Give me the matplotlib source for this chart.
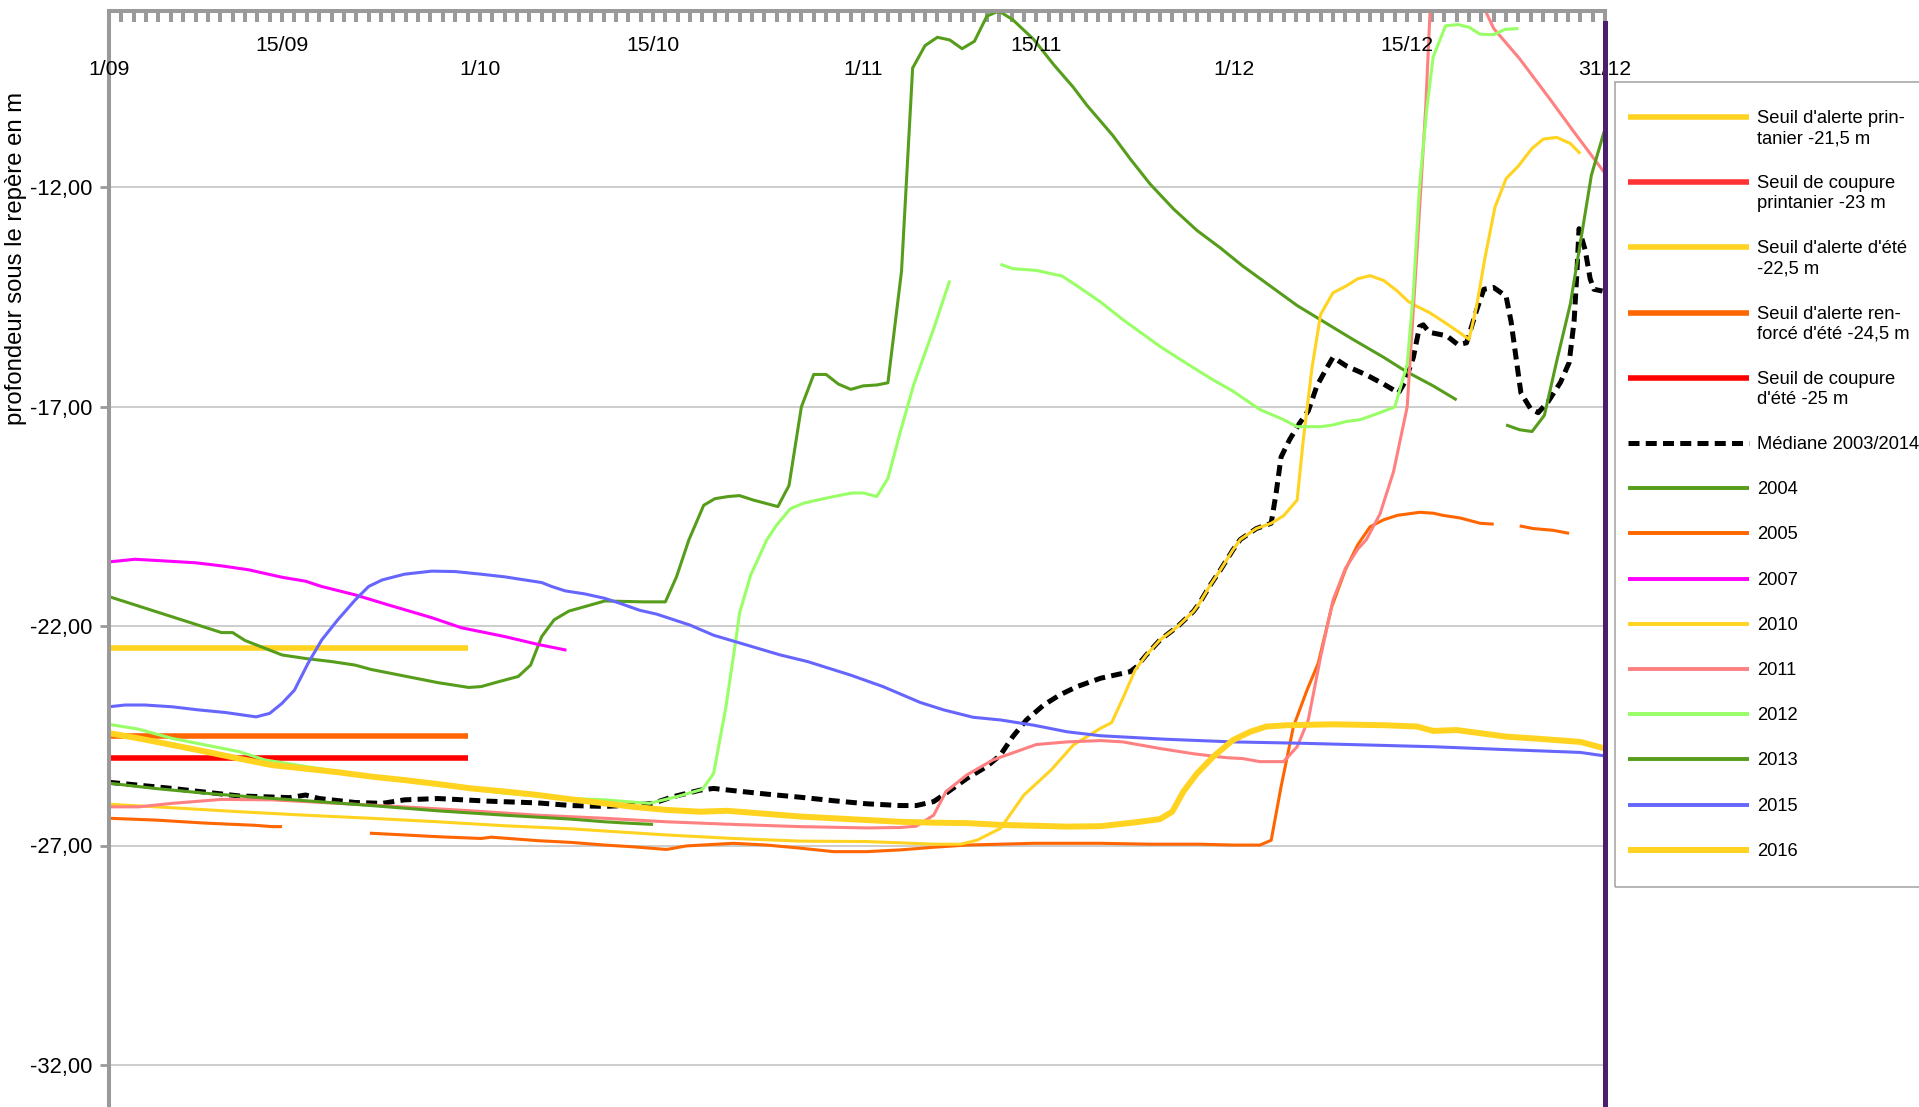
import numpy as np
import matplotlib
matplotlib.use("Agg")
import matplotlib.pyplot as plt
from matplotlib.lines import Line2D
from matplotlib.patches import Rectangle
from matplotlib import transforms

plt.rcParams['font.family'] = ['Liberation Sans', 'DejaVu Sans']

nan = np.nan

# jours comptés depuis le 1er septembre (0 = 1/09, 121 = 31/12)
date_jours = [0, 14, 30, 44, 61, 75, 91, 105, 121]
date_labels = ["1/09", "15/09", "1/10", "15/10", "1/11", "15/11", "1/12", "15/12", "31/12"]
y_ticks = [-32, -27, -22, -17, -12]

# seuils d'été (tracés jusqu'au 30/09) ; seuils printaniers hors période
seuil_jours = [0, 29]
seuil_printemps_jours = []
seuil_alerte_printemps = []
seuil_coupure_printemps = []
seuil_alerte_ete = [-22.5, -22.5]
seuil_renforce_ete = [-24.5, -24.5]
seuil_coupure_ete = [-25.0, -25.0]

mediane_jours = [0, 5.1, 10.5, 14.6, 15.9, 17.0, 19.9, 22.1, 23.9, 26.6, 30.7, 34.7, 37.4, 40.1,
                 42.4, 44.0, 45.6, 47.8, 48.9, 50.5, 53.2, 55.9, 58.6, 61.3, 64.0, 65.3, 66.7, 67.7,
                 69.4, 71.0, 72.1, 73.1, 74.2, 75.6, 76.9, 78.3, 80.2, 82.6, 83.1, 83.9, 85.0, 86.4,
                 87.7, 88.2, 89.0, 89.9, 90.9, 91.5, 92.8, 94.0, 94.4, 94.8, 95.5, 96.3, 97.0, 97.7,
                 98.5, 99.0, 100.1, 101.7, 103.1, 104.3, 104.8, 105.5, 106.0, 106.3, 106.8, 108.2,
                 109.1, 109.8, 110.6, 111.2, 112.0, 113.0, 113.4, 113.8, 114.2, 115.0, 115.6, 116.4,
                 117.4, 118.1, 118.5, 118.7, 118.9, 119.4, 119.8, 120.1, 120.8]
mediane = [-25.56, -25.70, -25.87, -25.91, -25.85, -25.93, -26.02, -26.04, -25.96, -25.93, -25.99,
           -26.03, -26.09, -26.11, -26.08, -26.04, -25.89, -25.74, -25.70, -25.75, -25.83, -25.90,
           -25.98, -26.05, -26.09, -26.09, -26.00, -25.81, -25.47, -25.20, -24.94, -24.52, -24.14,
           -23.80, -23.57, -23.38, -23.19, -23.04, -22.93, -22.66, -22.32, -22.02, -21.67, -21.48,
           -21.10, -20.72, -20.27, -20.03, -19.78, -19.66, -18.97, -18.15, -17.75, -17.38, -17.10,
           -16.53, -16.12, -15.88, -16.08, -16.28, -16.49, -16.69, -16.45, -15.88, -15.18, -15.14,
           -15.31, -15.39, -15.59, -15.55, -14.82, -14.33, -14.29, -14.49, -15.06, -15.88, -16.69,
           -17.06, -17.14, -16.89, -16.45, -16.00, -15.06, -14.09, -12.95, -13.44, -14.09, -14.33,
           -14.37]

jours_2004 = [0, 9.1, 10.0, 11.0, 14.0, 15.9, 18.0, 19.9, 21.2, 23.9, 26.6, 29.1, 30.1, 31.5, 33.1,
              34.1, 35.0, 36.0, 37.2, 40.1, 43.2, 45.0, 45.9, 46.9, 48.1, 49.0, 50.1, 51.0, 52.1,
              54.1, 55.0, 56.0, 57.0, 58.0, 59.0, 60.0, 61.0, 62.1, 63.0, 64.1, 65.0, 66.0, 67.0,
              68.0, 69.0, 70.0, 71.0, 71.8, 72.2, 73.1, 74.8, 76.4, 78.0, 79.1, 80.2, 81.2, 82.6,
              84.2, 86.1, 88.0, 89.9, 91.7, 93.9, 96.1, 98.2, 100.6, 103.1, 104.9, 107.1, 109.0]
prof_2004 = [-21.33, -22.15, -22.15, -22.33, -22.66, -22.74, -22.81, -22.89, -22.99, -23.14, -23.29,
             -23.40, -23.38, -23.27, -23.15, -22.89, -22.24, -21.86, -21.66, -21.43, -21.45, -21.45,
             -20.88, -20.04, -19.25, -19.10, -19.05, -19.03, -19.13, -19.28, -18.80, -17.01, -16.27,
             -16.27, -16.49, -16.61, -16.53, -16.51, -16.46, -13.92, -9.29, -8.78, -8.59, -8.65,
             -8.85, -8.68, -8.11, -8.01, -8.03, -8.19, -8.64, -9.21, -9.73, -10.14, -10.50, -10.83,
             -11.36, -11.93, -12.50, -12.99, -13.39, -13.80, -14.25, -14.70, -15.06, -15.47, -15.88,
             -16.20, -16.53, -16.85]

jours_2005 = [0, 3.7, 7.8, 11.8, 13.2, 14.0, nan, 21.1, 23.9, 26.6, 30.1, 30.9, 34.7, 37.4, 40.1,
              42.4, 45.1, 46.7, 50.5, 53.2, 55.9, 58.6, 61.3, 64.0, 66.7, 69.4, 72.1, 74.8, 80.2,
              84.2, 88.2, 90.9, 93.1, 94.0, 94.8, 95.8, 96.9, 97.8, 98.9, 100.0, 101.0, 102.0,
              103.1, 104.2, 106.0, 107.1, 107.9, 109.3, 110.9, 112.0, nan, 114.1, 115.2, 116.8, 118.1]
prof_2005 = [-26.38, -26.42, -26.49, -26.54, -26.57, -26.57, nan, -26.72, -26.76, -26.80, -26.84,
             -26.81, -26.89, -26.93, -26.99, -27.03, -27.09, -27.01, -26.95, -26.99, -27.06, -27.14,
             -27.14, -27.10, -27.04, -26.99, -26.97, -26.95, -26.95, -26.97, -26.97, -26.99, -26.99,
             -26.88, -25.66, -24.29, -23.46, -22.85, -21.56, -20.72, -20.15, -19.74, -19.58, -19.48,
             -19.41, -19.43, -19.48, -19.54, -19.66, -19.68, nan, -19.72, -19.78, -19.82, -19.89]

jours_2007 = [0, 2.1, 4.0, 7.0, 9.1, 11.3, 14.0, 15.9, 17.2, 19.9, 22.6, 26.1, 28.5, 32.0, 34.7, 37.0]
prof_2007 = [-20.54, -20.48, -20.51, -20.56, -20.63, -20.72, -20.89, -20.98, -21.10, -21.29, -21.52,
             -21.81, -22.04, -22.24, -22.42, -22.55]

jours_2010 = [0, 5.1, 10.5, 15.9, 21.2, 26.6, 32.0, 37.4, 40.1, 45.1, 50.5, 55.9, 61.3, 66.7, 68.9,
              70.2, 72.1, 74.0, 76.2, 78.0, 80.2, 81.1, 82.0, 83.0, 83.9, 85.0, 86.4, 87.7, 88.2,
              89.0, 89.9, 90.9, 91.5, 92.8, 94.0, 95.0, 96.1, 96.6, 97.3, 98.0, 99.0, 100.1, 101.0,
              102.0, 103.1, 104.2, 105.1, 105.8, 106.8, 107.9, 109.0, 110.0, 110.6, 111.3, 112.1,
              113.0, 114.0, 115.1, 116.0, 117.1, 118.2, 119.0]
prof_2010 = [-26.06, -26.14, -26.23, -26.31, -26.38, -26.46, -26.55, -26.62, -26.67, -26.76, -26.84,
             -26.90, -26.91, -26.97, -26.97, -26.88, -26.61, -25.85, -25.28, -24.71, -24.33, -24.20,
             -23.65, -23.00, -22.66, -22.32, -22.02, -21.67, -21.48, -21.10, -20.72, -20.27, -20.03,
             -19.78, -19.66, -19.49, -19.13, -17.75, -16.12, -14.90, -14.41, -14.25, -14.09, -14.02,
             -14.13, -14.37, -14.61, -14.72, -14.86, -15.06, -15.27, -15.47, -14.74, -13.60, -12.46,
             -11.81, -11.52, -11.12, -10.91, -10.87, -11.01, -11.24]

jours_2011 = [0, 2.4, 5.1, 9.1, 13.2, 18.5, 23.9, 29.3, 34.7, 40.1, 45.1, 50.5, 55.9, 61.3, 64.0,
              65.3, 66.7, 67.7, 69.4, 71.5, 73.1, 75.0, 77.5, 80.2, 82.0, 85.0, 87.7, 90.4, 91.7,
              93.1, 95.0, 96.1, 97.0, 98.0, 99.0, 100.0, 101.0, 101.7, 102.8, 103.9, 105.0, 105.8,
              106.5, 106.85, nan, 111.35, 112.0, 114.1, 116.5, 118.5, 121.0]
prof_2011 = [-26.12, -26.12, -26.04, -25.95, -25.96, -26.04, -26.12, -26.21, -26.31, -26.38, -26.46,
             -26.52, -26.57, -26.60, -26.59, -26.56, -26.31, -25.77, -25.39, -25.05, -24.89, -24.70,
             -24.64, -24.61, -24.64, -24.79, -24.91, -25.00, -25.02, -25.09, -25.09, -24.75, -24.14,
             -22.70, -21.41, -20.69, -20.25, -20.03, -19.45, -18.48, -17.01, -13.44, -10.18, -8.0,
             nan, -8.0, -8.39, -9.08, -9.98, -10.75, -11.69]

jours_2012 = [0, 2.4, 5.1, 7.8, 10.5, 12.6, 15.9, 21.2, 26.6, 32.0, 37.4, 40.1, 43.7, 45.9, 48.0,
              48.9, 49.9, 50.7, 51.0, 51.9, 53.2, 54.0, 55.1, 56.2, 57.8, 59.0, 60.1, 61.0, 62.1,
              63.0, 64.0, 65.1, 66.7, 68.0, nan, 72.1, 73.1, 75.0, 77.1, 78.5, 80.2, 82.0, 85.0,
              86.6, 89.1, 90.9, 93.1, 95.0, 96.1, 98.0, 99.0, 100.1, 101.2, 102.8, 104.0, 105.0,
              105.5, 106.0, 106.6, 107.1, 108.1, 109.1, 110.0, 110.9, 112.0, 112.9, 114.0]
prof_2012 = [-24.24, -24.35, -24.56, -24.71, -24.86, -25.05, -25.20, -25.43, -25.62, -25.81, -25.93,
             -25.96, -26.04, -25.89, -25.72, -25.36, -23.84, -22.32, -21.71, -20.84, -20.04, -19.70,
             -19.33, -19.20, -19.10, -19.03, -18.97, -18.97, -19.05, -18.64, -17.58, -16.49, -15.23,
             -14.13, nan, -13.76, -13.86, -13.90, -14.03, -14.29, -14.62, -15.02, -15.63, -15.92,
             -16.36, -16.65, -17.07, -17.30, -17.46, -17.46, -17.42, -17.34, -17.30, -17.14, -17.01,
             -16.04, -14.41, -11.97, -10.18, -9.04, -8.33, -8.30, -8.36, -8.52, -8.53, -8.41, -8.39]

jours_2013 = [0, 3.7, 7.8, 11.8, 15.9, 21.2, 26.6, 32.0, 37.4, 40.1, 41.9, 44.0, nan, 113.0, 114.1,
              115.1, 116.1, 117.1, 118.2, 119.1, 119.9, 121.0]
prof_2013 = [-25.58, -25.70, -25.81, -25.90, -25.98, -26.09, -26.21, -26.31, -26.40, -26.46, -26.49,
             -26.52, nan, -17.42, -17.53, -17.57, -17.20, -15.96, -14.66, -13.11, -11.73, -10.67]

jours_2015 = [0, 1.3, 2.9, 5.1, 7.2, 9.4, 11.9, 13.0, 14.0, 15.0, 16.1, 17.2, 18.5, 19.9, 21.0,
              22.1, 23.9, 26.1, 28.0, 30.1, 32.0, 33.6, 35.0, 35.8, 36.9, 38.5, 40.1, 41.3, 42.9,
              44.3, 47.0, 48.9, 51.3, 54.3, 56.5, 60.0, 62.6, 65.6, 67.5, 69.9, 72.1, 74.8, 77.5,
              80.2, 85.5, 90.9, 96.3, 101.7, 107.1, 112.5, 119.0, 121.0]
prof_2015 = [-23.84, -23.80, -23.80, -23.84, -23.91, -23.97, -24.07, -23.99, -23.76, -23.46, -22.85,
             -22.32, -21.86, -21.41, -21.10, -20.95, -20.82, -20.75, -20.76, -20.82, -20.88, -20.95,
             -21.01, -21.10, -21.20, -21.27, -21.37, -21.48, -21.64, -21.73, -21.98, -22.21, -22.41,
             -22.66, -22.81, -23.12, -23.38, -23.74, -23.91, -24.08, -24.14, -24.26, -24.41, -24.50,
             -24.58, -24.64, -24.67, -24.71, -24.75, -24.81, -24.88, -24.96]

jours_2016 = [0, 2.4, 5.1, 7.8, 10.5, 13.2, 15.9, 18.5, 21.2, 23.9, 26.6, 29.3, 32.0, 34.7, 37.4,
              40.1, 42.4, 45.1, 47.8, 50.0, 53.2, 55.9, 58.6, 61.3, 64.0, 66.7, 69.4, 72.1, 74.8,
              77.5, 80.2, 82.8, 85.0, 86.0, 86.9, 88.0, 89.3, 90.9, 92.3, 93.6, 95.3, 99.0, 103.1,
              105.8, 107.1, 109.0, 110.6, 113.0, 115.2, 119.0, 121.0]
prof_2016 = [-24.44, -24.56, -24.71, -24.86, -25.02, -25.17, -25.25, -25.33, -25.43, -25.51, -25.60,
             -25.70, -25.77, -25.85, -25.95, -26.04, -26.12, -26.19, -26.23, -26.21, -26.28, -26.34,
             -26.38, -26.42, -26.46, -26.48, -26.49, -26.53, -26.55, -26.57, -26.56, -26.48, -26.40,
             -26.23, -25.77, -25.36, -24.98, -24.60, -24.41, -24.29, -24.26, -24.24, -24.26, -24.29,
             -24.39, -24.37, -24.43, -24.52, -24.56, -24.64, -24.79]

W, H = 1919, 1107
GRIS = '#9a9a9a'
DASH = (2.2, 1.25)

# (légende, jours, valeurs, couleur, épaisseur, pointillé)
series = [
    ("Seuil d'alerte prin-\ntanier -21,5 m", seuil_printemps_jours, seuil_alerte_printemps, '#ffd320', 4.0, None),
    ("Seuil de coupure\nprintanier -23 m", seuil_printemps_jours, seuil_coupure_printemps, '#ff3333', 4.0, None),
    ("Seuil d'alerte d'été\n-22,5 m", seuil_jours, seuil_alerte_ete, '#ffd320', 4.0, None),
    ("Seuil d'alerte ren-\nforcé d'été -24,5 m", seuil_jours, seuil_renforce_ete, '#ff6600', 4.0, None),
    ("Seuil de coupure\nd'été -25 m", seuil_jours, seuil_coupure_ete, '#ff0000', 4.0, None),
    ("Médiane 2003/2014", mediane_jours, mediane, '#000000', 3.6, DASH),
    ("2004", jours_2004, prof_2004, '#579d1c', 2.2, None),
    ("2005", jours_2005, prof_2005, '#ff6600', 2.2, None),
    ("2007", jours_2007, prof_2007, '#ff00ff', 2.2, None),
    ("2010", jours_2010, prof_2010, '#ffd320', 2.2, None),
    ("2011", jours_2011, prof_2011, '#ff8080', 2.2, None),
    ("2012", jours_2012, prof_2012, '#99ff66', 2.2, None),
    ("2013", jours_2013, prof_2013, '#579d1c', 2.2, None),
    ("2015", jours_2015, prof_2015, '#6666ff', 2.2, None),
    ("2016", jours_2016, prof_2016, '#ffd320', 4.3, None),
]


def draw_axes(fig):
    # zone de tracé : x de 109 à 1605 px, y de -33 (bas) à -8 (haut)
    ax = fig.add_axes([109 / W, (H - 1108.9) / H, 1496 / W, 1097.5 / H])
    ax.set_xlim(0, 121)
    ax.set_ylim(-33, -8)

    for side in ['bottom', 'right']:
        ax.spines[side].set_visible(False)
    for side in ['top', 'left']:
        ax.spines[side].set_color(GRIS)
        ax.spines[side].set_linewidth(2.9)

    # une graduation par jour sur l'axe du haut
    ax.xaxis.tick_top()
    ax.set_xticks(np.arange(0, 122))
    ax.tick_params(axis='x', direction='in', length=8, width=2.9, color=GRIS,
                   labeltop=False, labelbottom=False)

    ax.set_yticks(y_ticks)
    ax.set_yticklabels([f"{v:.2f}".replace('.', ',') for v in y_ticks])
    ax.tick_params(axis='y', direction='out', length=6.5, width=2, color=GRIS,
                   pad=5.5, labelsize=15.8)
    ax.yaxis.grid(True, color='#c0c0c0', linewidth=1.1)
    ax.set_axisbelow(True)

    # étiquettes de dates, sur deux rangées
    trans = transforms.blended_transform_factory(ax.transData, fig.transFigure)
    for d, lab in zip(date_jours, date_labels):
        base = 51.4 if lab.startswith('15') else 75.1
        ax.text(d, 1 - base / H, lab, transform=trans, ha='center', va='baseline',
                fontsize=15.3, clip_on=False)

    fig.text(16 / W, 1 - 258 / H, "profondeur sous le repère en m", rotation=90,
             ha='center', va='center', fontsize=17.2)

    # trait violet de fin d'année
    ax.axvline(121, ymin=0, ymax=0.9894, color='#4b1f6f', lw=3.6, zorder=6, clip_on=False)
    return ax


def draw_series(ax):
    for label, x, y, color, lw, dashes in series:
        if len(x) == 0:
            continue
        line, = ax.plot(x, y, color=color, lw=lw, solid_capstyle='butt',
                        solid_joinstyle='round')
        if dashes:
            line.set_dashes(dashes)
            line.set_dash_capstyle('butt')


def draw_legend(fig):
    fig.add_artist(Rectangle((1615 / W, 1 - 887 / H), 400 / W, (887 - 82) / H,
                             transform=fig.transFigure, fill=False,
                             edgecolor='#a0a0a0', lw=1.1))
    y = 117
    for label, x, vals, color, lw, dashes in series:
        yf = 1 - y / H
        h = Line2D([1628 / W, 1749 / W], [yf, yf], transform=fig.transFigure,
                   color=color, lw=max(lw, 2.8), solid_capstyle='butt')
        if dashes:
            h.set_dashes(dashes)
            h.set_dash_capstyle('butt')
        fig.add_artist(h)
        lines = label.split('\n')
        for k, txt in enumerate(lines):
            fig.text(1757 / W, 1 - (y + 6 + 20 * k) / H, txt, fontsize=13.2,
                     ha='left', va='baseline')
        y += 45.2 + 20 * (len(lines) - 1)


if __name__ == "__main__":
    fig = plt.figure(figsize=(W / 100, H / 100), dpi=100)
    ax = draw_axes(fig)
    draw_series(ax)
    draw_legend(fig)
    fig.savefig("out.png", dpi=100)
